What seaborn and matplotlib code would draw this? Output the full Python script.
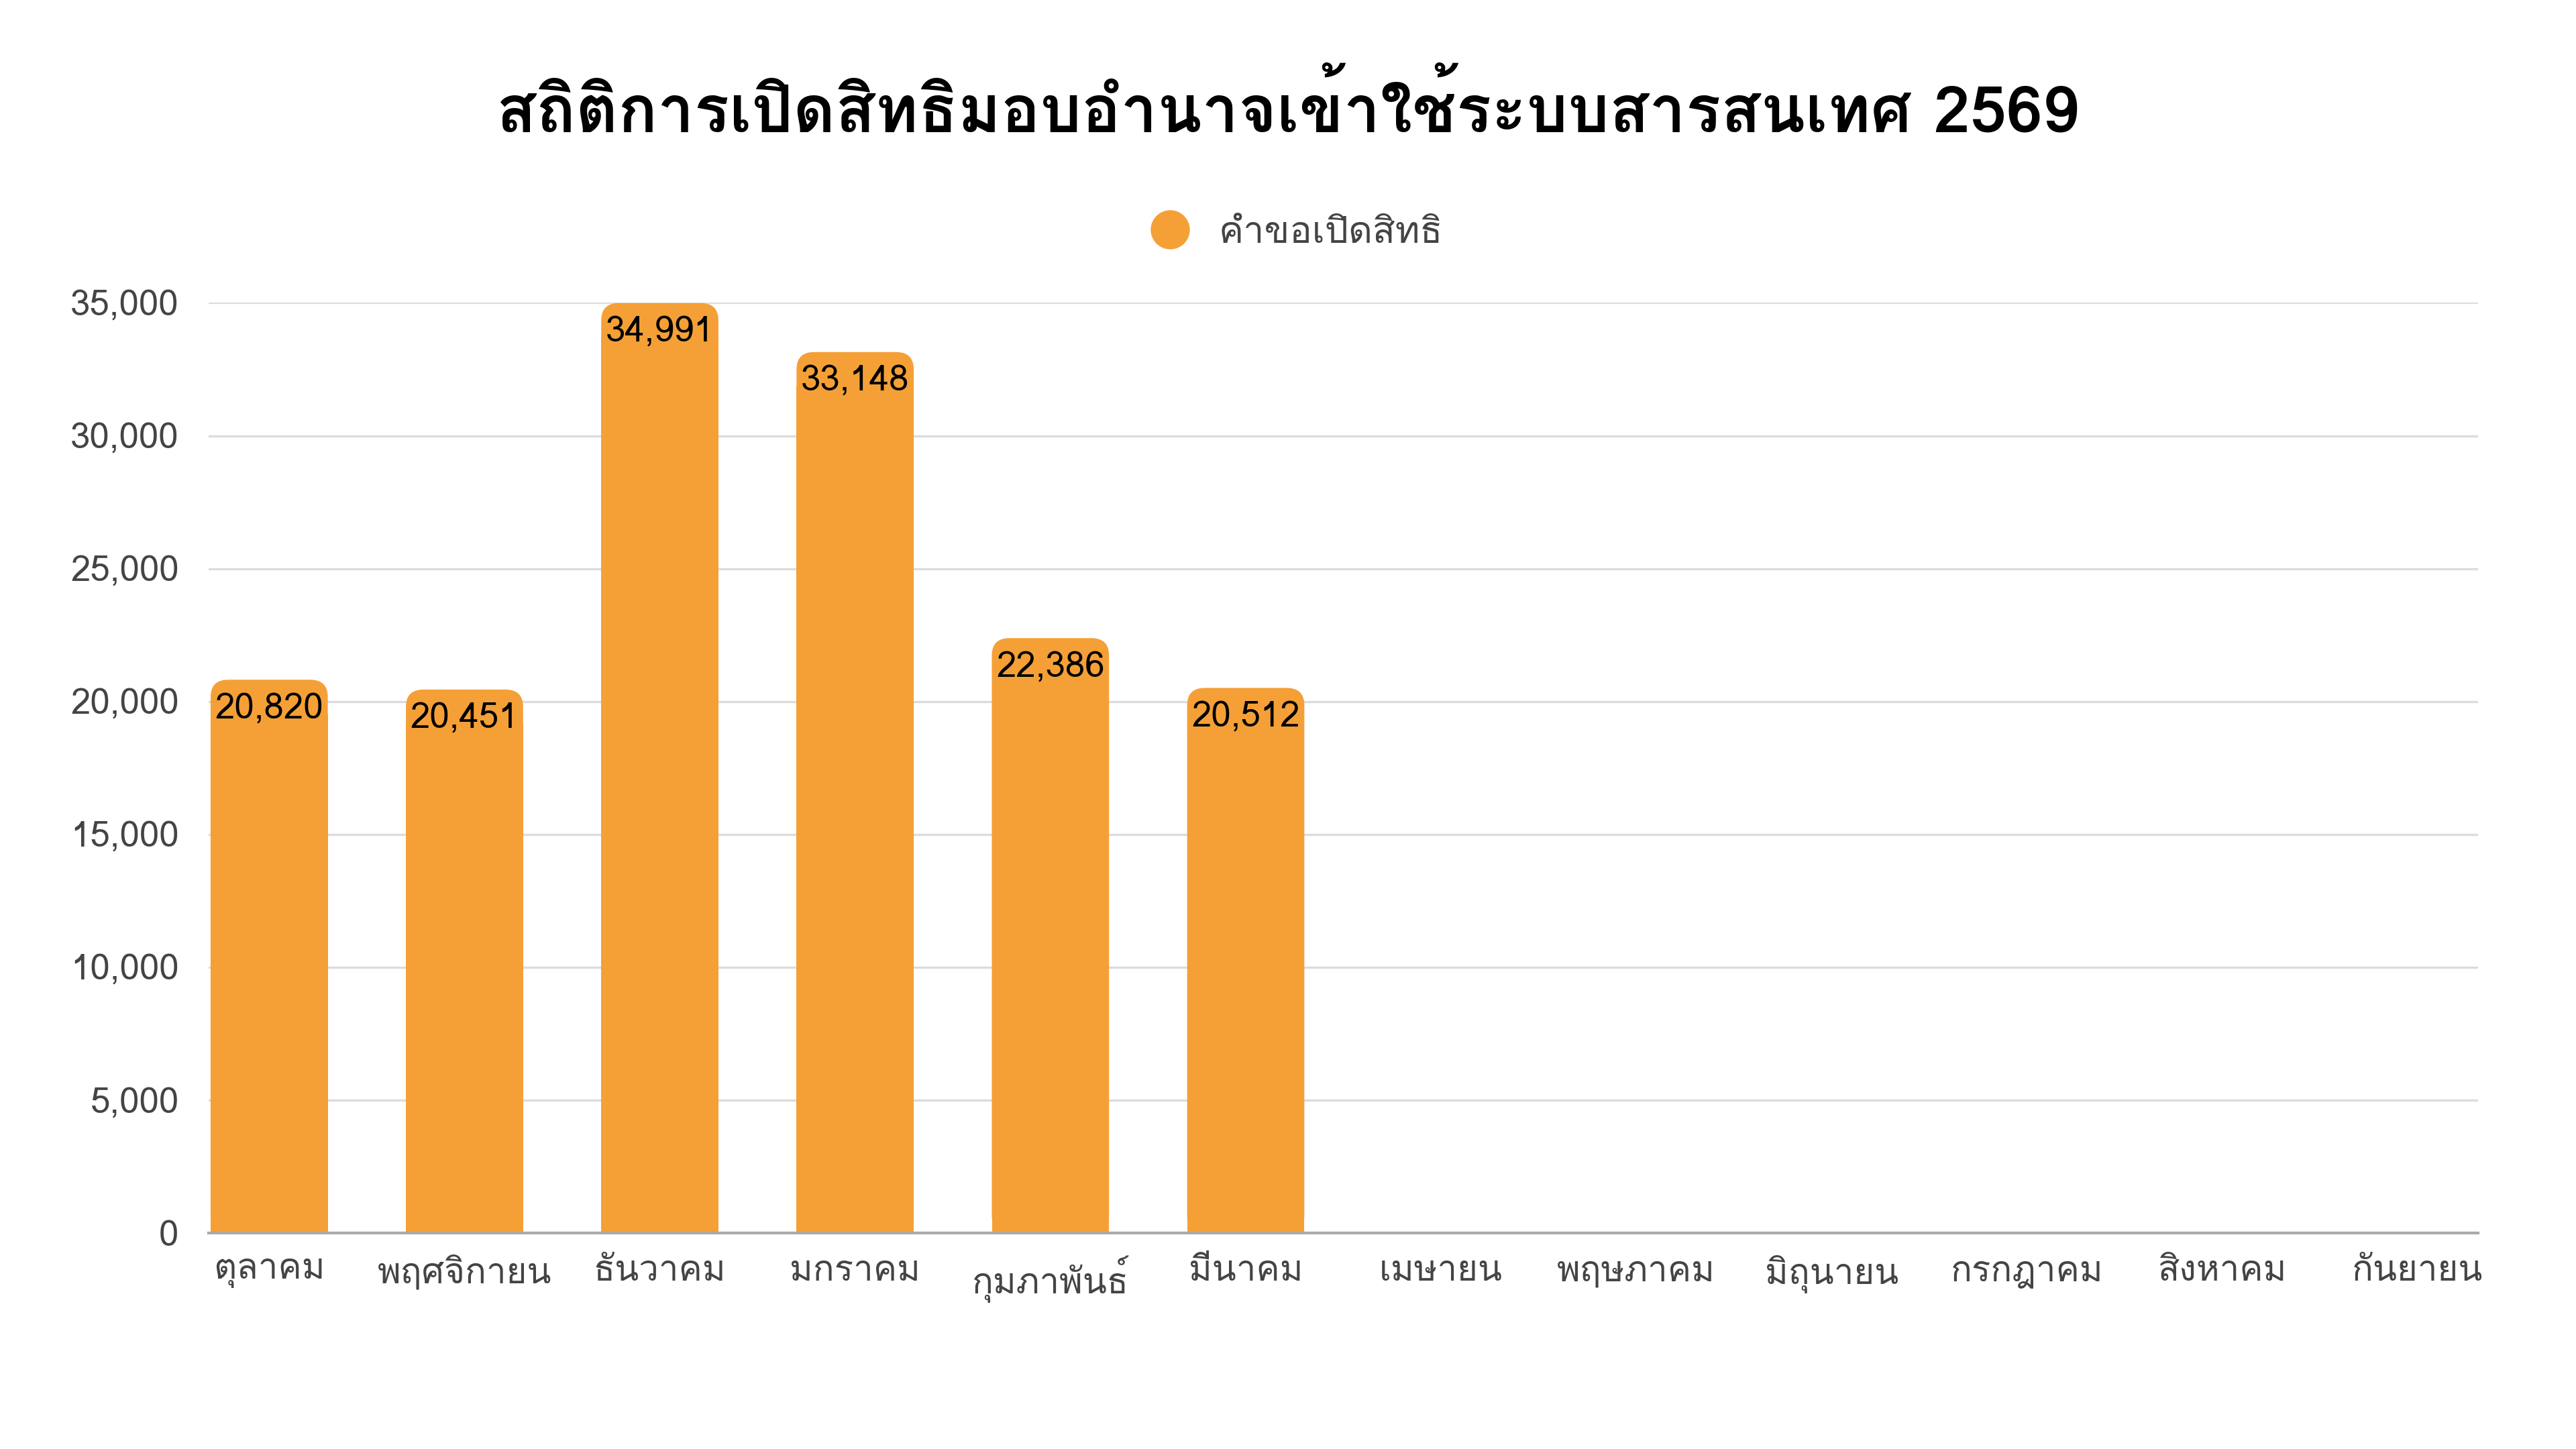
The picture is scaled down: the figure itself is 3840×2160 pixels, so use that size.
import matplotlib
matplotlib.use("Agg")
import matplotlib.pyplot as plt
import seaborn as sns
import pandas as pd
from matplotlib import font_manager
from matplotlib.ft2font import FT2Font
from matplotlib.patches import FancyBboxPatch, Rectangle
from matplotlib.ticker import FuncFormatter

title = "สถิติการเปิดสิทธิมอบอำนาจเข้าใช้ระบบสารสนเทศ 2569"
series_name = "คำขอเปิดสิทธิ"
months = ["ตุลาคม", "พฤศจิกายน", "ธันวาคม", "มกราคม", "กุมภาพันธ์", "มีนาคม",
          "เมษายน", "พฤษภาคม", "มิถุนายน", "กรกฎาคม", "สิงหาคม", "กันยายน"]
requests = [20820, 20451, 34991, 33148, 22386, 20512,
            None, None, None, None, None, None]
y_ticks = [0, 5000, 10000, 15000, 20000, 25000, 30000, 35000]

bar_color = "#F4A037"

# find an installed family that has Thai glyphs
thai_family = None
for f in font_manager.fontManager.ttflist:
    try:
        if 0x0E01 in FT2Font(f.fname).get_charmap():
            thai_family = f.name
            break
    except Exception:
        pass

sns.set_theme(style="white")
families = ([thai_family] if thai_family else []) + ["DejaVu Sans"]
plt.rcParams["font.family"] = families

df = pd.DataFrame({"month": months, "value": requests})

fig, ax = plt.subplots(figsize=(19.2, 10.8), dpi=200)
fig.subplots_adjust(left=0.081, right=0.962, top=0.791, bottom=0.149)

sns.barplot(data=df, x="month", y="value", color=bar_color, width=0.6,
            saturation=1, ax=ax)

# swap plain bars for ones with rounded tops
r_x = 0.09
r_y = 650
for p in list(ax.patches):
    h = p.get_height()
    if not h or h != h:
        p.remove()
        continue
    x0, w = p.get_x(), p.get_width()
    p.remove()
    ax.add_patch(FancyBboxPatch((x0, 0), w, h,
                                boxstyle=f"round,pad=0,rounding_size={r_x}",
                                mutation_aspect=r_y / r_x,
                                fc=bar_color, ec="none", zorder=2))
    ax.add_patch(Rectangle((x0, 0), w, h - 2 * r_y, fc=bar_color, ec="none", zorder=2))
    ax.text(x0 + w / 2, h - 500, f"{int(h):,}", ha="center", va="top",
            fontsize=19, color="black", zorder=3)

ax.set_ylim(0, 35000)
ax.set_xlim(-0.31, len(months) - 0.69)
ax.set_yticks(y_ticks)
ax.yaxis.set_major_formatter(FuncFormatter(lambda v, _: f"{int(v):,}"))
ax.grid(axis="y", color="#dcdcdc", linewidth=1.2, zorder=0)
ax.set_axisbelow(True)
for s in ["top", "right", "left"]:
    ax.spines[s].set_visible(False)
ax.spines["bottom"].set_color("#aaaaaa")
ax.spines["bottom"].set_linewidth(1.5)
ax.tick_params(axis="both", length=0, labelsize=19, labelcolor="#444444")
ax.tick_params(axis="x", pad=12)
ax.tick_params(axis="y", pad=16)
ax.set_xlabel("")
ax.set_ylabel("")

fig.text(0.5, 0.925, title, ha="center", va="center", fontsize=35,
         fontweight="bold", color="black")

ax.legend(handles=[plt.Line2D([], [], marker="o", ls="", markersize=20,
                              color=bar_color, label=series_name)],
          loc="center", bbox_to_anchor=(0.5, 0.839), bbox_transform=fig.transFigure,
          frameon=False, fontsize=20, handletextpad=0.3, labelcolor="#444444")

fig.savefig("out.png", dpi=200, facecolor="white")
